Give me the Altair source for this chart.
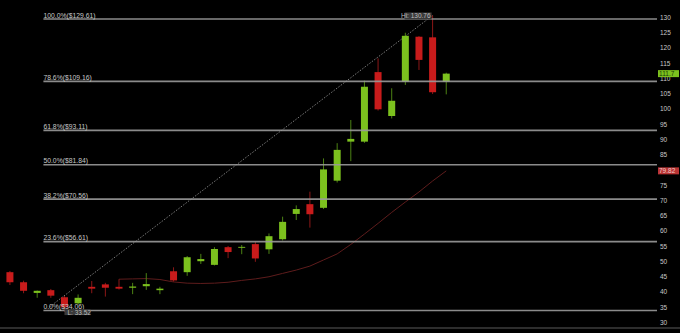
import altair as alt
import pandas as pd

# ---- data ----
opens  = [46.6, 43.3, 39.8, 40.7, 38.4, 36.4, 41.8, 42.6, 41.8, 41.5, 42.0, 40.7, 46.9, 46.6, 50.2, 49.0, 54.8,
          54.6, 55.8, 54.1, 57.4, 65.7, 68.9, 67.7, 76.6, 89.4, 89.4, 112.2, 97.8, 109.0, 123.8, 123.6, 109.0]
highs  = [47.0, 43.8, 40.6, 41.1, 38.8, 39.3, 43.7, 43.1, 44.3, 43.1, 46.3, 41.8, 48.2, 51.9, 52.6, 54.8, 55.2,
          55.5, 56.6, 59.3, 64.8, 68.5, 73.0, 83.9, 88.9, 96.5, 109.4, 116.7, 106.9, 125.1, 124.0, 130.76, 112.0]
lows   = [42.4, 39.7, 38.2, 38.2, 33.52, 36.0, 39.7, 38.6, 40.9, 39.4, 40.8, 39.4, 43.5, 45.4, 49.3, 48.8, 51.2,
          52.5, 50.0, 52.6, 57.0, 63.7, 61.2, 67.3, 76.0, 83.0, 89.0, 99.6, 97.0, 108.0, 112.9, 105.0, 104.9]
closes = [43.3, 40.5, 40.5, 38.9, 35.1, 38.2, 41.2, 41.5, 41.2, 41.9, 42.7, 41.2, 43.9, 51.5, 50.9, 54.2, 53.2,
          54.9, 51.1, 58.4, 63.1, 67.3, 65.6, 80.3, 86.7, 90.3, 107.4, 100.0, 102.8, 124.1, 116.2, 105.6, 111.7]

ma_first_bar = 9
ma_values = [44.3, 44.4, 44.5, 44.2, 43.4, 43.0, 42.9, 43.0, 43.3, 43.9, 44.4, 45.1, 46.2, 47.3, 48.6,
             50.6, 52.6, 55.7, 59.1, 62.6, 66.2, 69.6, 72.9, 76.5, 79.82]

fib_pcts   = ["0.0%", "23.6%", "38.2%", "50.0%", "61.8%", "78.6%", "100.0%"]
fib_prices = [34.06, 56.61, 70.56, 81.84, 93.11, 109.16, 129.61]

hi_value = 130.76
lo_value = 33.52
hi_bar = 32
lo_bar = 5
trend_bars = [3.9, 32]
trend_values = [35.2, 130.76]

last_price_label = "111.7"
ma_label = "79.82"
# price-scale labels (80 is hidden under the moving-average tag in the reference)
y_ticks = [30, 35, 40, 45, 50, 55, 60, 65, 70, 75, 85, 90, 95, 100, 105, 110, 115, 120, 125, 130]

# ---- tables ----
n = len(opens)
bars = pd.DataFrame({
    "i": list(range(1, n + 1)),
    "open": opens, "high": highs, "low": lows, "close": closes,
})
bars["dir"] = ["up" if c >= o else "down" for o, c in zip(opens, closes)]

ma = pd.DataFrame({"i": list(range(ma_first_bar, ma_first_bar + len(ma_values))), "ma": ma_values})
fib = pd.DataFrame({"price": fib_prices,
                    "label": [f"{p}(${v:.2f})" for p, v in zip(fib_pcts, fib_prices)]})
trend = pd.DataFrame({"i": trend_bars, "v": trend_values})

X0, X1 = 0.6388, 48.457
FIB_START = 3.456
xs = alt.Scale(domain=[X0, X1], nice=False, zero=False)
ys = alt.Scale(domain=[26.66, 135.84], nice=False, zero=False)

up_col, down_col = "#7cc11e", "#c81b1b"
up_wick, down_wick = "#4c8214", "#8c1717"

X = lambda f: alt.X(f, type="quantitative", scale=xs, axis=None)
Y = lambda f: alt.Y(f, type="quantitative", scale=ys, axis=None)

# right-hand price scale labels, placed through the y scale
ticks_df = pd.DataFrame({"t": y_ticks, "x": [X1] * len(y_ticks)})
axis_labels = alt.Chart(ticks_df).mark_text(align="left", baseline="middle", dx=3, color="#c8c8c8",
                                            font="Liberation Sans", fontSize=6.5).encode(
    x=X("x"), y=Y("t"), text=alt.Text("t:Q", format="d"))

wicks = alt.Chart(bars).mark_rule(strokeWidth=1).encode(
    x=X("i"), y=Y("low"), y2="high:Q",
    color=alt.Color("dir:N", scale=alt.Scale(domain=["up", "down"], range=[up_wick, down_wick]), legend=None),
)

bodies = alt.Chart(bars).mark_bar(size=7).encode(
    x=X("i"), y=Y("open"), y2="close:Q",
    color=alt.Color("dir:N", scale=alt.Scale(domain=["up", "down"], range=[up_col, down_col]), legend=None),
)

ma_line = alt.Chart(ma).mark_line(color="#5e1c1c", strokeWidth=1).encode(x=X("i"), y=Y("ma"))

trend_line = alt.Chart(trend).mark_line(color="#7a7a7a", strokeWidth=1, strokeDash=[1.5, 1.5]).encode(
    x=X("i"), y=Y("v"))

fib_lines = alt.Chart(fib).mark_rule(color="#9a9a9a", strokeWidth=1.6, opacity=0.9).encode(
    x=X("start"), x2="end:Q", y=Y("price")
).transform_calculate(start=str(FIB_START), end=str(X1))

fib_text = alt.Chart(fib).mark_text(align="left", baseline="bottom", dy=-0.5, color="#c8c8c8",
                                    font="Liberation Sans", fontSize=6.8).encode(
    x=X("start"), y=Y("price"), text="label:N"
).transform_calculate(start=str(FIB_START))

ann = pd.DataFrame({"i": [hi_bar], "v": [hi_value], "t": [f"Hi: {hi_value:.2f}"]})
hi_box = alt.Chart(ann).mark_rect(color="#3a3a3a", xOffset=-28, x2Offset=-1, yOffset=-3, y2Offset=4).encode(
    x=X("i"), x2="i:Q", y=Y("v"), y2="v:Q")
hi_text = alt.Chart(ann).mark_text(align="right", baseline="middle", dx=-2, dy=0.5, color="#bdbdbd",
                                   font="Liberation Sans", fontSize=6.5).encode(
    x=X("i"), y=Y("v"), text="t:N")

lo = pd.DataFrame({"i": [lo_bar], "v": [lo_value], "t": [f"L: {lo_value:.2f}"]})
lo_box = alt.Chart(lo).mark_rect(color="#3a3a3a", xOffset=0, x2Offset=26, yOffset=-3, y2Offset=3).encode(
    x=X("i"), x2="i:Q", y=Y("v"), y2="v:Q")
lo_text = alt.Chart(lo).mark_text(align="left", baseline="middle", dx=3, dy=0.5, color="#bdbdbd",
                                  font="Liberation Sans", fontSize=6.5).encode(
    x=X("i"), y=Y("v"), text="t:N")

tags = pd.DataFrame({"v": [closes[-1], ma_values[-1]], "t": [last_price_label, ma_label],
                     "kind": ["price", "ma"], "x": [X1, X1]})
tag_box = alt.Chart(tags).mark_rect(xOffset=1, x2Offset=22, yOffset=-3.5, y2Offset=3.5).encode(
    x=X("x"), x2="x:Q", y=Y("v"), y2="v:Q",
    color=alt.Color("kind:N", scale=alt.Scale(domain=["price", "ma"], range=["#7cc11e", "#b93434"]), legend=None))
tag_text = alt.Chart(tags).mark_text(align="left", baseline="middle", dx=2, dy=0.5,
                                     font="Liberation Sans", fontSize=6.5).encode(
    x=X("x"), y=Y("v"), text="t:N",
    color=alt.Color("kind:N", scale=alt.Scale(domain=["price", "ma"], range=["#1b3a05", "#f0caca"]), legend=None))

bottom_rule = alt.Chart(bars).mark_rule(color="#2e2e2e", strokeWidth=1.5).encode(
    x=alt.value(0), x2=alt.value(680), y=alt.value(328))

chart = alt.layer(
    ma_line, trend_line, wicks, bodies, fib_lines, fib_text, hi_box, hi_text, lo_box, lo_text,
    axis_labels, tag_box, tag_text, bottom_rule
).resolve_scale(color="independent").properties(
    width=662, height=333, background="#000000", autosize="none",
    padding={"left": 0, "top": 0, "right": 18, "bottom": 0}
).configure_view(strokeWidth=0)

chart.save("out.html", embed_options={"renderer": "svg", "actions": False})
